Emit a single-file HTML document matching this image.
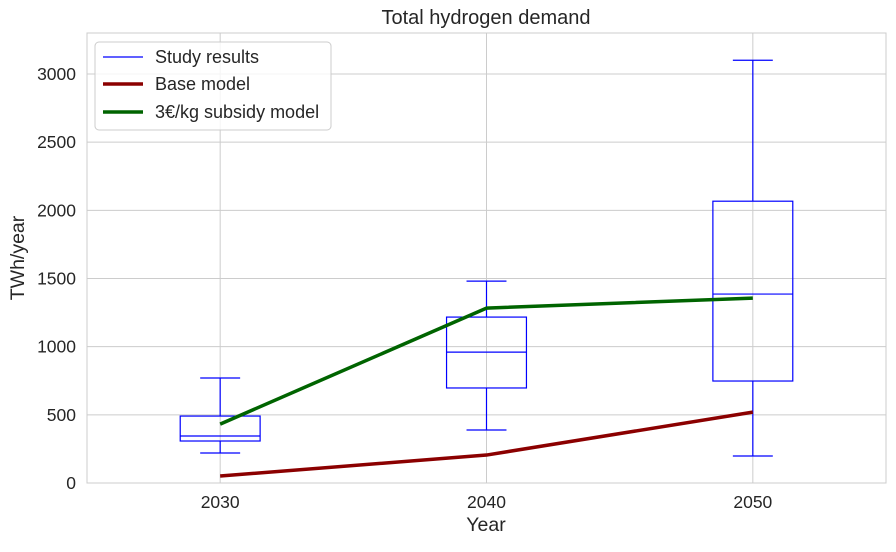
<!DOCTYPE html>
<html><head><meta charset="utf-8"><style>
body{margin:0;background:#fff;font-family:"Liberation Sans",sans-serif;}
svg text{font-family:"Liberation Sans",sans-serif;fill:#262626;}
</style></head><body>
<svg id="chart" width="896" height="547"></svg>
<script>
const categories=["2030","2040","2050"];
const whiskerLow=[220,389,198];
const q1=[308,697,748];
const median=[345,960,1386];
const q3=[491,1217,2067];
const whiskerHigh=[770,1481,3101];
const baseModel=[51,205,520];
const subsidyModel=[432,1283,1356];
const yTicks=[0,500,1000,1500,2000,2500,3000];

const NS="http://www.w3.org/2000/svg";
const svg=document.getElementById('chart');
const L=87,R=886,T=33,B=483;
const x=i=>L+(i+0.5)/3*(R-L);
const y=v=>B-v*(B-74)/3000;
function mk(tag,attrs,parent){const e=document.createElementNS(NS,tag);for(const k in attrs)e.setAttribute(k,attrs[k]);(parent||svg).appendChild(e);return e;}

const grid=mk('g',{});


yTicks.forEach(v=>{
  mk('line',{x1:L,x2:R,y1:y(v),y2:y(v),stroke:'#cccccc','stroke-width':1},grid);
  const t=mk('text',{x:L-11,y:y(v)+6,'text-anchor':'end','font-size':17.5},grid);
  t.textContent=v;
  
  
});
categories.forEach((c,i)=>{
  mk('line',{x1:x(i),x2:x(i),y1:T,y2:B,stroke:'#cccccc','stroke-width':1},grid);
  const t=mk('text',{x:x(i),y:B+25,'text-anchor':'middle','font-size':17.5},grid);
  t.textContent=c;
  
  
});
const frame=mk('rect',{x:L,y:T,width:R-L,height:B-T,fill:'none',stroke:'#cccccc','stroke-width':1});



const bw=(R-L)/3*0.3;
categories.forEach((c,i)=>{
  const g=mk('g',{stroke:'#0000ff','stroke-width':1.2,fill:'none'});
  
  
  const cx=x(i);
  mk('rect',{x:cx-bw/2,y:y(q3[i]),width:bw,height:y(q1[i])-y(q3[i])},g);
  mk('line',{x1:cx-bw/2,x2:cx+bw/2,y1:y(median[i]),y2:y(median[i])},g);
  mk('line',{x1:cx,x2:cx,y1:y(q1[i]),y2:y(whiskerLow[i])},g);
  mk('line',{x1:cx,x2:cx,y1:y(q3[i]),y2:y(whiskerHigh[i])},g);
  mk('line',{x1:cx-bw/4,x2:cx+bw/4,y1:y(whiskerLow[i]),y2:y(whiskerLow[i])},g);
  mk('line',{x1:cx-bw/4,x2:cx+bw/4,y1:y(whiskerHigh[i]),y2:y(whiskerHigh[i])},g);
});

const p1=mk('polyline',{points:baseModel.map((v,i)=>x(i)+','+y(v)).join(' '),fill:'none',stroke:'#8b0000','stroke-width':3.5});


const p2=mk('polyline',{points:subsidyModel.map((v,i)=>x(i)+','+y(v)).join(' '),fill:'none',stroke:'#006400','stroke-width':3.5});


</script>
<svg width="896" height="547" style="position:absolute;left:0;top:0">
<text x="486" y="24" text-anchor="middle" font-size="20">Total hydrogen demand</text>
<text x="486" y="531" text-anchor="middle" font-size="19.5">Year</text>
<text x="24" y="258" text-anchor="middle" font-size="19.5" transform="rotate(-90 24 258)">TWh/year</text>
<g>
<rect x="95" y="42" width="236" height="88" rx="4" fill="#fff" fill-opacity="0.8" stroke="#cccccc"/>
<g><line x1="103" x2="143" y1="57" y2="57" stroke="#0000ff" stroke-width="1.2"/><text x="155" y="63" font-size="18">Study results</text></g>
<g><line x1="103" x2="143" y1="84" y2="84" stroke="#8b0000" stroke-width="3.5"/><text x="155" y="90" font-size="18">Base model</text></g>
<g><line x1="103" x2="143" y1="112" y2="112" stroke="#006400" stroke-width="3.5"/><text x="155" y="118" font-size="18">3€/kg subsidy model</text></g>
</g>
</svg>
</body></html>
